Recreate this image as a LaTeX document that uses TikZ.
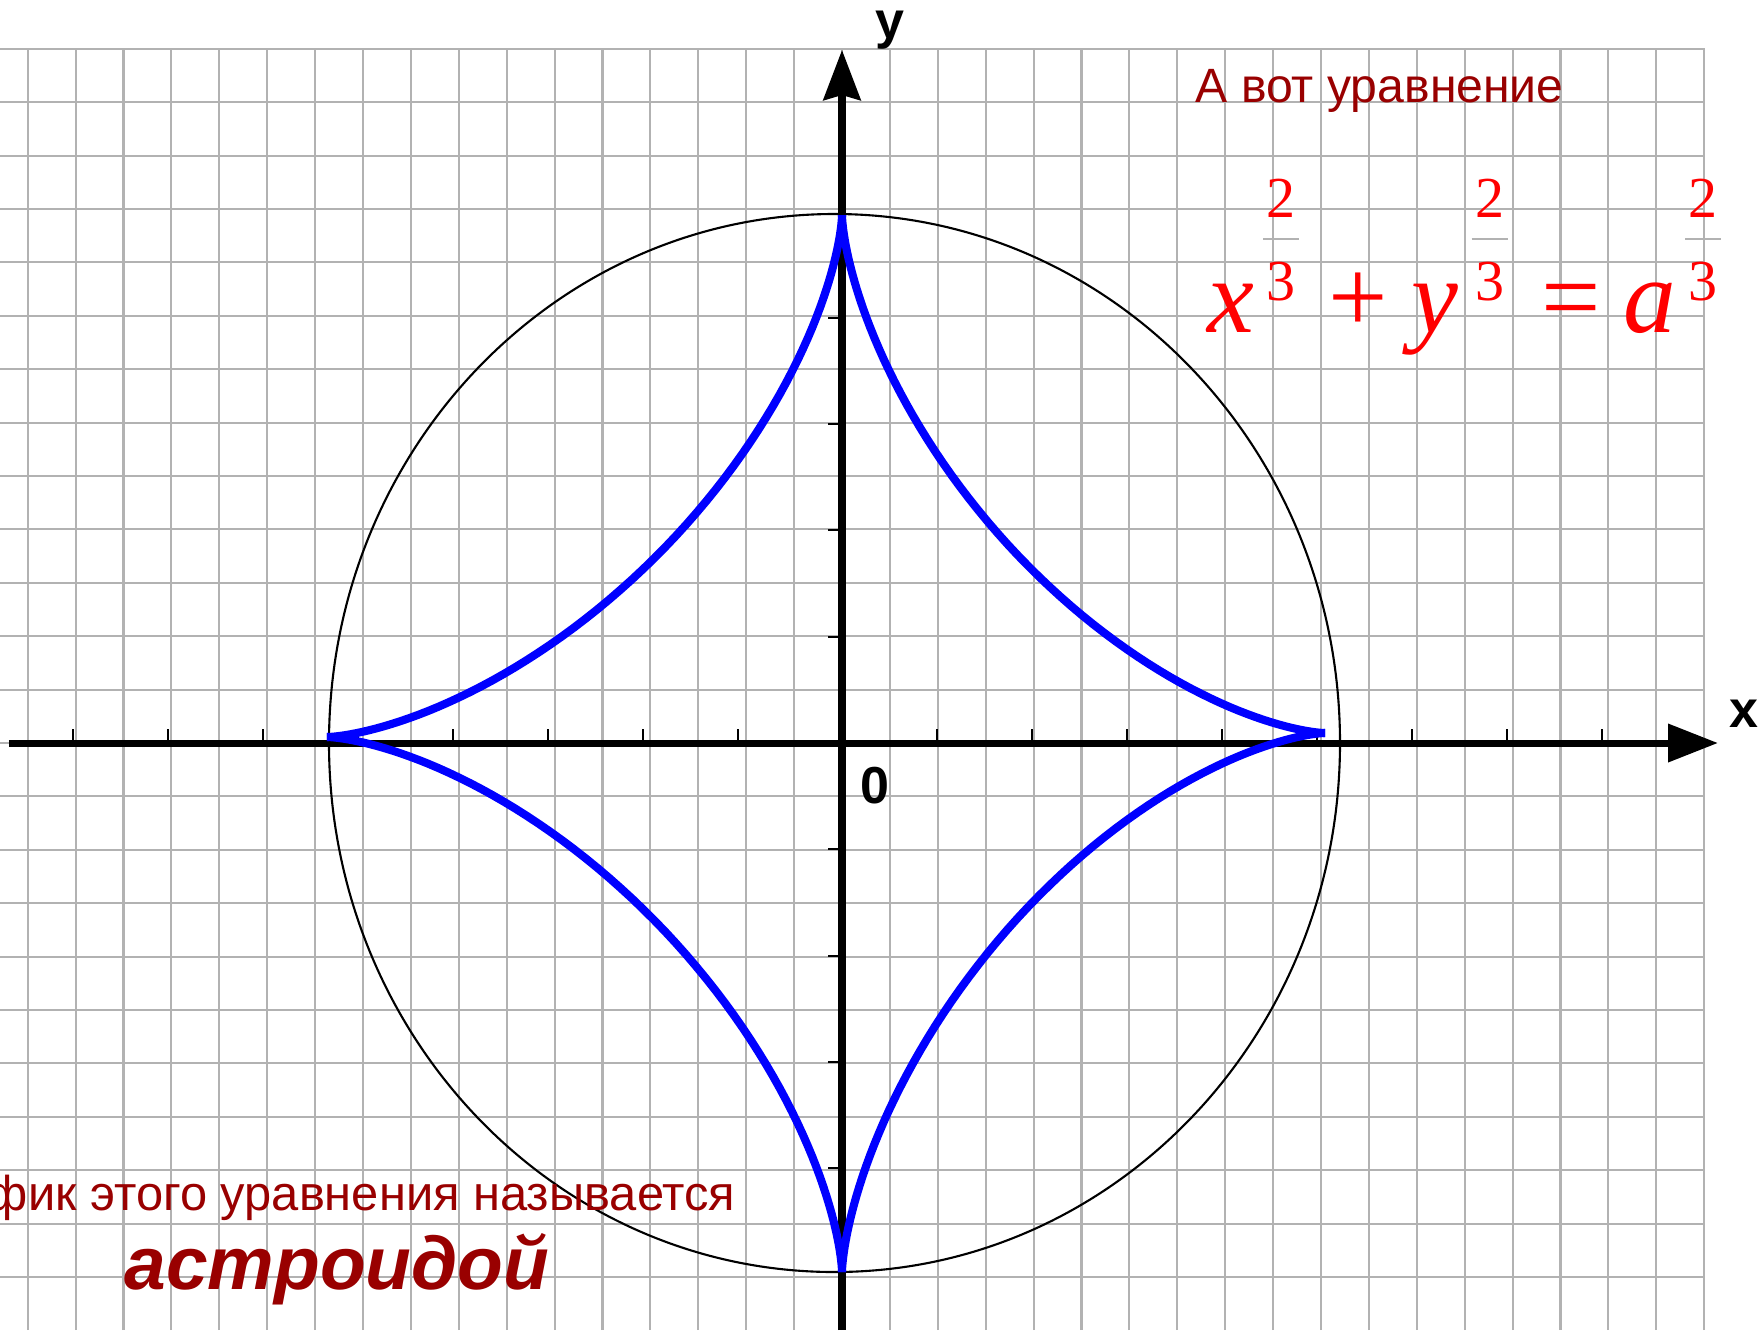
\documentclass[tikz,border=0pt]{standalone}
\usepackage{fontspec}
\setmainfont{Liberation Sans}
\newfontfamily\timesfont{Liberation Serif}
\usetikzlibrary{arrows.meta}
\definecolor{textred}{RGB}{153,0,0}
\definecolor{eqred}{RGB}{255,0,0}
\definecolor{curveblue}{RGB}{0,0,255}

\begin{document}
\begin{tikzpicture}[
    gridline/.style={black!30, line width=0.6pt},
    axisline/.style={line width=2pt},
    axtick/.style={line width=0.6pt},
    astro/.style={curveblue, line width=2.3pt},
    lbl/.style={inner sep=0, font=\fontsize{14.8}{17}\selectfont\bfseries},
    expo/.style={inner sep=0, eqred, font=\timesfont\fontsize{16.5}{18}\selectfont},
    eqpart/.style={inner sep=0, eqred, font=\timesfont\fontsize{30}{32}\selectfont}
]

% Frame
\useasboundingbox (-8.42,-5.87) rectangle (9.20,7.43);
\fill[white] (-8.42,-5.87) rectangle (9.20,7.43);

% Grid
\foreach \i in {-17,...,18}
    \draw[gridline] (\i*0.479,-5.87) -- (\i*0.479,6.95);
\foreach \j in {-10,...,13}
    \draw[gridline] (-8.42,\j*0.534) -- (8.62,\j*0.534);

% Axes
\coordinate (xs) at (-8.33,0);
\coordinate (xe) at (8.76,0);
\coordinate (ys) at (0,-5.87);
\coordinate (ye) at (0,6.93);
\draw[axisline, -{Triangle[length=0.5cm, width=0.37cm]}] (xs) -- (xe);
\draw[axisline, -{Stealth[length=0.5cm, width=0.37cm, inset=0.05cm]}] (ys) -- (ye);

% Ticks
\foreach \k in {1,...,8} {
    \draw[axtick] (\k*0.95,0) -- ++(0,0.14);
    \draw[axtick] (-\k*0.95-0.09,0) -- ++(0,0.14);
}
\foreach \k in {1,...,4} {
    \draw[axtick] (0,\k*1.063) -- ++(-0.14,0);
    \draw[axtick] (0,-\k*1.063) -- ++(-0.14,0);
}

% Circle
\draw[line width=0.6pt] (-0.075,0) ellipse [x radius=5.055, y radius=5.29];

% Astroid
\foreach \hx/\hy/\vy in {4.83/0.10/5.28, -5.15/0.06/5.28, -5.15/0.06/-5.29, 4.83/0.10/-5.29}
    \draw[astro] plot[domain=0:90, samples=80, variable=\t]
        ({\hx*cos(\t)^3}, {\hy+(\vy-\hy)*sin(\t)^3});

% Axis labels
\node[lbl, anchor=base] (ylab) at (0.48,7.05) {y};
\node[lbl, anchor=base] (xlab) at (9.015,0.16) {x};
\node[lbl, anchor=base] (zero) at (0.325,-0.60) {0};

% Equation
\node[textred, inner sep=0, anchor=base west, font=\fontsize{13.7}{16}\selectfont] (title) at (3.53,6.41) {А вот уравнение};
\node[eqpart, anchor=base] (xb) at (3.89,4.11) {\itshape x};
\node[eqpart, anchor=base] (plus) at (5.16,4.11) {+};
\node[eqpart, anchor=base] (yb) at (5.93,4.11) {\itshape y};
\node[eqpart, anchor=base] (eqs) at (7.295,4.11) {=};
\node[eqpart, anchor=base] (ab) at (8.08,4.11) {\itshape a};
\foreach \ex/\nm in {4.39/a, 6.475/b, 8.61/c} {
    \node[expo, anchor=base] (num\nm) at (\ex,5.26) {2};
    \node[expo, anchor=base] (den\nm) at (\ex,4.43) {3};
    \draw[black!30, line width=0.3pt] (\ex-0.18,5.04) -- (\ex+0.18,5.04);
}

% Caption
\node[textred, inner sep=0, anchor=base east, font=\fontsize{13.9}{17}\selectfont] (graph) at (-1.06,-4.67) {фик этого уравнения называется};
\node[textred, inner sep=0, anchor=base west, font=\fontsize{21.3}{26}\selectfont\bfseries\itshape] (name) at (-7.18,-5.46) {астроидой};

\end{tikzpicture}
\end{document}
